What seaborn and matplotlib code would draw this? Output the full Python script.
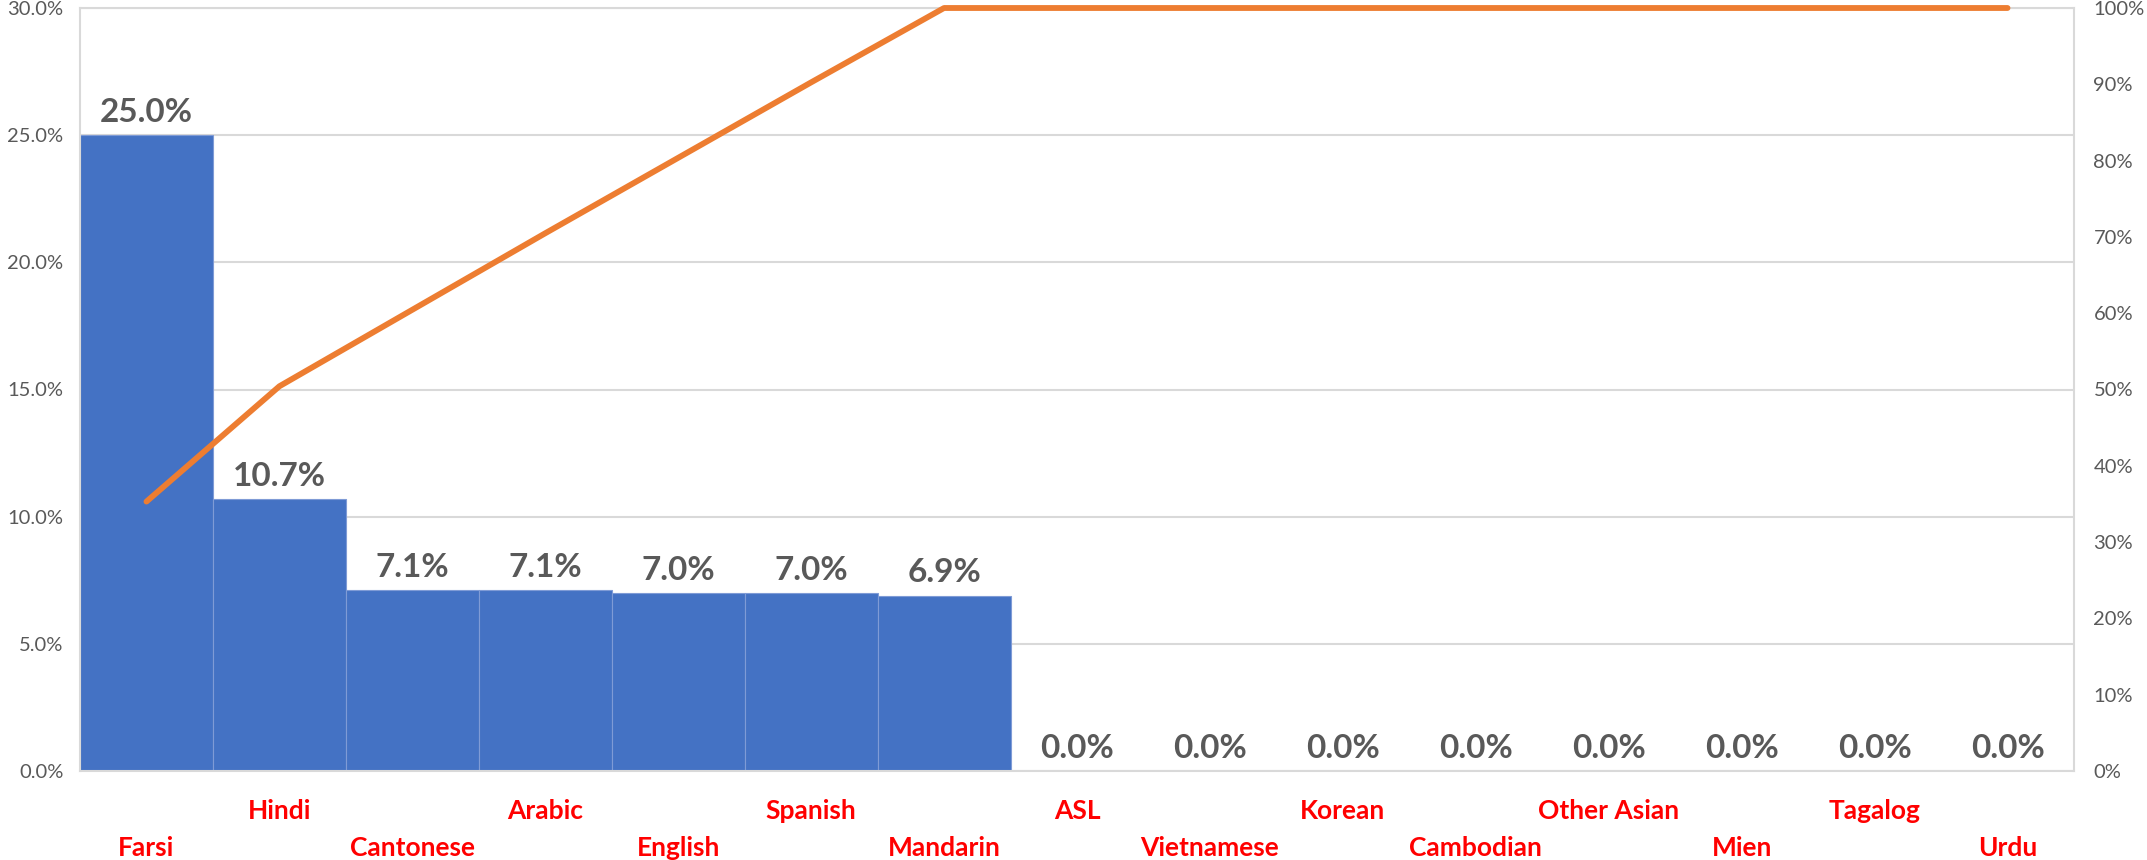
import numpy as np
import pandas as pd
import seaborn as sns
import matplotlib.pyplot as plt
from matplotlib.ticker import PercentFormatter

# DATA
languages = ['Farsi', 'Hindi', 'Cantonese', 'Arabic', 'English', 'Spanish', 'Mandarin',
             'ASL', 'Vietnamese', 'Korean', 'Cambodian', 'Other Asian', 'Mien', 'Tagalog', 'Urdu']
share_pct = [25.0, 10.7, 7.1, 7.1, 7.0, 7.0, 6.9, 0.0, 0.0, 0.0, 0.0, 0.0, 0.0, 0.0, 0.0]

df = pd.DataFrame({'Language': languages, 'Share': share_pct})
df['Cumulative'] = df['Share'].cumsum() / df['Share'].sum() * 100

sns.set_style('white')
plt.rcParams['font.family'] = ['Lato', 'DejaVu Sans']

GRAY = '#595959'
GRID = '#d9d9d9'
BLUE = '#4472C4'
ORANGE = '#ED7D31'

fig = plt.figure(figsize=(21.47, 8.6), dpi=100)
ax = fig.add_axes([80 / 2147, 89 / 860, 1994 / 2147, 763 / 860])

sns.barplot(data=df, x='Language', y='Share', ax=ax, color=BLUE, width=1.0,
            edgecolor='#7f9bd6', linewidth=0.8, saturation=1)

ax.set_xlim(-0.5, len(languages) - 0.5)
ax.set_ylim(0, 30)
ax.set_yticks(np.arange(0, 30.1, 5))
ax.yaxis.set_major_formatter(PercentFormatter(decimals=1))
ax.set_xlabel('')
ax.set_ylabel('')
ax.grid(axis='y', color=GRID, linewidth=1.5)
ax.set_axisbelow(True)
for s in ax.spines.values():
    s.set_color(GRID)
    s.set_linewidth(1.5)
ax.tick_params(axis='y', length=0, pad=12, labelsize=14.5, labelcolor=GRAY)

# value labels
for i, v in enumerate(share_pct):
    ax.annotate(f'{v:.1f}%', (i, v), xytext=(0, 6), textcoords='offset points',
                ha='center', va='bottom', fontsize=24, fontweight='bold', color=GRAY)

# staggered category labels
ax.set_xticks(range(len(languages)))
ax.set_xticklabels(languages, fontsize=19, fontweight='bold', color='red')
ax.tick_params(axis='x', length=0)
for i, t in enumerate(ax.xaxis.get_major_ticks()):
    t.set_pad(47 if i % 2 == 0 else 20)

# cumulative line on secondary axis
ax2 = ax.twinx()
sns.lineplot(x=np.arange(len(languages)), y=df['Cumulative'].values, ax=ax2,
             color=ORANGE, linewidth=4.2, clip_on=False)
ax2.set_ylim(0, 100)
ax2.set_yticks(np.arange(0, 101, 10))
ax2.yaxis.set_major_formatter(PercentFormatter(decimals=0))
ax2.tick_params(axis='y', length=0, pad=14, labelsize=14.5, labelcolor=GRAY)
ax2.set_xlim(-0.5, len(languages) - 0.5)
for s in ax2.spines.values():
    s.set_visible(False)

fig.savefig('out.png', dpi=100, facecolor='white')
